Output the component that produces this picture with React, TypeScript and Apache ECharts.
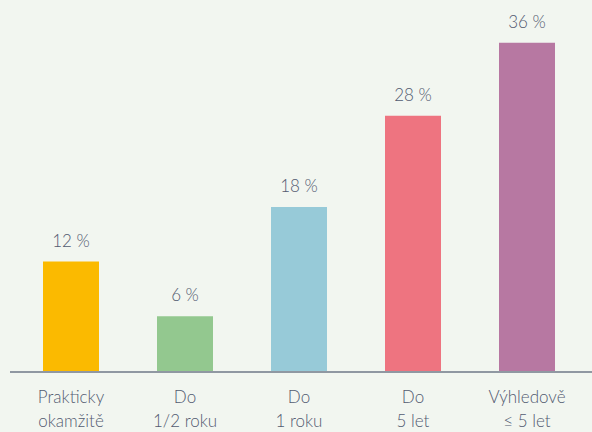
import React, { useEffect, useRef } from "react";
import * as echarts from "echarts";

const categories = ["Prakticky\nokamžitě", "Do\n1/2 roku", "Do\n1 roku", "Do\n5 let", "Výhledově\n≤ 5 let"];
const values = [12, 6, 18, 28, 36];
const colors = ["#FBBA00", "#93C88F", "#97CAD8", "#EE7480", "#B778A2"];

const TEXT = "#535b70";

export default function App() {
  const ref = useRef<HTMLDivElement>(null);
  useEffect(() => {
    document.body.style.margin = "0";
    const chart = echarts.init(ref.current!, null, { renderer: "svg" });
    chart.setOption({
      animation: false,
      backgroundColor: "#f2f6f0",
      grid: { left: 14, right: 8, top: 6.4, bottom: 60, containLabel: false },
      xAxis: {
        type: "category",
        data: categories,
        axisLine: { show: false },
        axisTick: { show: false },
        axisLabel: {
          color: TEXT,
          fontFamily: "Lato",
          fontWeight: 300,
          fontSize: 17,
          lineHeight: 24,
          margin: 13,
          interval: 0,
        },
      },
      yAxis: {
        type: "value",
        min: 0,
        max: 40,
        show: false,
        splitLine: { show: false },
      },
      series: [
        {
          type: "bar",
          barWidth: 56,
          data: values.map((v, i) => ({ value: v, itemStyle: { color: colors[i] } })),
          label: {
            show: true,
            position: "top",
            distance: 13,
            formatter: "{c} %",
            color: TEXT,
            fontFamily: "Lato",
            fontWeight: 300,
            fontSize: 17,
          },
        },
      ],
      graphic: [
        {
          type: "line",
          shape: { x1: 10, y1: 372, x2: 592, y2: 372 },
          style: { stroke: "#6f7889", lineWidth: 1.5 },
          z: 10,
        },
      ],
    });
    return () => chart.dispose();
  }, []);
  return <div ref={ref} style={{ position: "absolute", left: 0, top: 0, width: 592, height: 432 }} />;
}
